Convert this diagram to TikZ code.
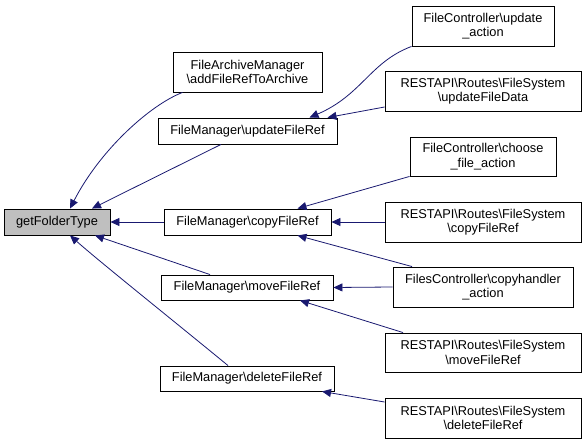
\documentclass[tikz,border=0pt]{standalone}
\usepackage{fontspec}
\setmainfont{Liberation Sans}
\usetikzlibrary{arrows.meta,positioning}
\definecolor{edgeblue}{HTML}{191970}
\definecolor{rootgray}{HTML}{BFBFBF}
\newcommand{\bs}{\textbackslash}

\begin{document}
\begin{tikzpicture}[x=1pt,y=-1pt,
  fn/.style={draw=black,line width=0.9pt,fill=white,align=center,inner sep=0pt,
    font=\fontsize{12.8}{14.5}\selectfont},
  call/.style={draw=edgeblue,line width=0.8pt,-{Triangle[length=9pt,width=8pt]}},
  ]
 \useasboundingbox (0,0) rectangle (587,444);
 \node[fn,fill=rootgray,minimum width=106pt,minimum height=26pt] at (57,222) (gft) {getFolderType};
 \node[fn,minimum width=149pt,minimum height=40pt] at (247.5,72) (archive) {FileArchiveManager\\\bs addFileRefToArchive};
 \node[fn,minimum width=179pt,minimum height=26pt] at (247.5,131) (update) {FileManager\bs updateFileRef};
 \node[fn,minimum width=167pt,minimum height=26pt] at (247.5,222) (copy) {FileManager\bs copyFileRef};
 \node[fn,minimum width=172pt,minimum height=25pt] at (247,287.5) (move) {FileManager\bs moveFileRef};
 \node[fn,minimum width=174pt,minimum height=25pt] at (247,378.5) (delete) {FileManager\bs deleteFileRef};
 %
 \node[fn,minimum width=142pt,minimum height=40pt] at (483,26) (updact) {FileController\bs update\\\_action};
 \node[fn,minimum width=196pt,minimum height=40pt] at (483,91) (upddata) {RESTAPI\bs Routes\bs FileSystem\\\bs updateFileData};
 \node[fn,minimum width=146pt,minimum height=39pt] at (483,156.5) (choose) {FileController\bs choose\\\_file\_action};
 \node[fn,minimum width=196pt,minimum height=40pt] at (483,222) (rcopy) {RESTAPI\bs Routes\bs FileSystem\\\bs copyFileRef};
 \node[fn,minimum width=180pt,minimum height=40pt] at (483,287) (handler) {FilesController\bs copyhandler\\\_action};
 \node[fn,minimum width=196pt,minimum height=39pt] at (483,352.5) (rmove) {RESTAPI\bs Routes\bs FileSystem\\\bs moveFileRef};
 \node[fn,minimum width=196pt,minimum height=40pt] at (483,418) (rdelete) {RESTAPI\bs Routes\bs FileSystem\\\bs deleteFileRef};
 %
 \draw[call] ([xshift=-65pt]archive.south) .. controls (150,105) and (100,150) .. ([xshift=13pt]gft.north);
 \draw[call] ([xshift=-26.5pt]update.south) -- ([xshift=35pt]gft.north);
 \draw[call] (copy.west) -- (gft.east);
 \draw[call] ([xshift=-37pt]move.north) -- ([xshift=38pt]gft.south);
 \draw[call] ([xshift=-19pt]delete.north) .. controls (175,322) and (100,262) .. ([xshift=13pt]gft.south);
 \draw[call] (updact.south west) .. controls (370,62) and (362,95) .. ([xshift=62pt]update.north);
 \draw[call] ([yshift=-16pt]upddata.west) -- ([xshift=80pt]update.north);
 \draw[call] (choose.south west) -- ([xshift=50pt]copy.north);
 \draw[call] (rcopy.west) -- (copy.east);
 \draw[call] ([xshift=-71pt]handler.north) -- ([xshift=50pt]copy.south);
 \draw[call] (handler.west) -- (move.east);
 \draw[call] ([xshift=-80pt]rmove.north) -- ([xshift=53pt]move.south);
 \draw[call] ([yshift=16pt]rdelete.west) -- ([xshift=75pt]delete.south);
\end{tikzpicture}
\end{document}
